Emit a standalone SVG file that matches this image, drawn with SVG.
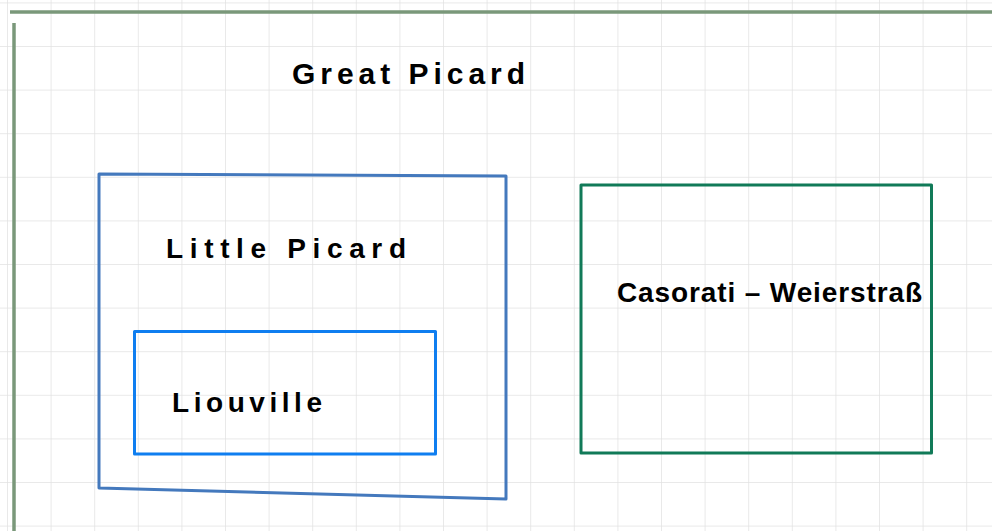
<svg xmlns="http://www.w3.org/2000/svg" width="992" height="531" viewBox="0 0 992 531">
<defs>
<pattern id="grid" x="7" y="2.4" width="43.6" height="43.6" patternUnits="userSpaceOnUse">
<path d="M0 0 V43.6 M0 0 H43.6" fill="none" stroke="#e2e2e2" stroke-width="1.5"/>
</pattern>
<style>
.lbl{font-family:"Liberation Sans",Arial,sans-serif;fill:#000;font-weight:bold}
.box{fill:none;stroke-width:3;stroke-linejoin:round}
.frame{stroke:#7a987a;stroke-width:3.5;fill:none}
</style>
</defs>
<rect width="992" height="531" fill="#ffffff"/>
<rect width="992" height="531" fill="url(#grid)"/>
<g id="frame">
<line class="frame" x1="10" y1="12" x2="992" y2="12"/>
<line class="frame" x1="14" y1="23" x2="14" y2="531"/>
</g>
<g id="great-picard">
<text class="lbl" x="292" y="84" font-size="30" textLength="233" lengthAdjust="spacing">Great Picard</text>
</g>
<g id="little-picard">
<polygon class="box" stroke="#4479bd" points="99,174 506,176 506,499 99,488"/>
<text class="lbl" x="166" y="258" font-size="28" textLength="240" lengthAdjust="spacing">Little Picard</text>
</g>
<g id="liouville">
<rect class="box" stroke="#0f7ef0" x="134.5" y="331.5" width="301" height="122.5"/>
<text class="lbl" x="172" y="412" font-size="28" textLength="150" lengthAdjust="spacing">Liouville</text>
</g>
<g id="casorati-weierstrass">
<rect class="box" stroke="#117a58" x="581" y="185" width="350.5" height="268"/>
<text class="lbl" x="617" y="302" font-size="28" textLength="305" lengthAdjust="spacing">Casorati – Weierstraß</text>
</g>
<g id="connectors"/>
</svg>
